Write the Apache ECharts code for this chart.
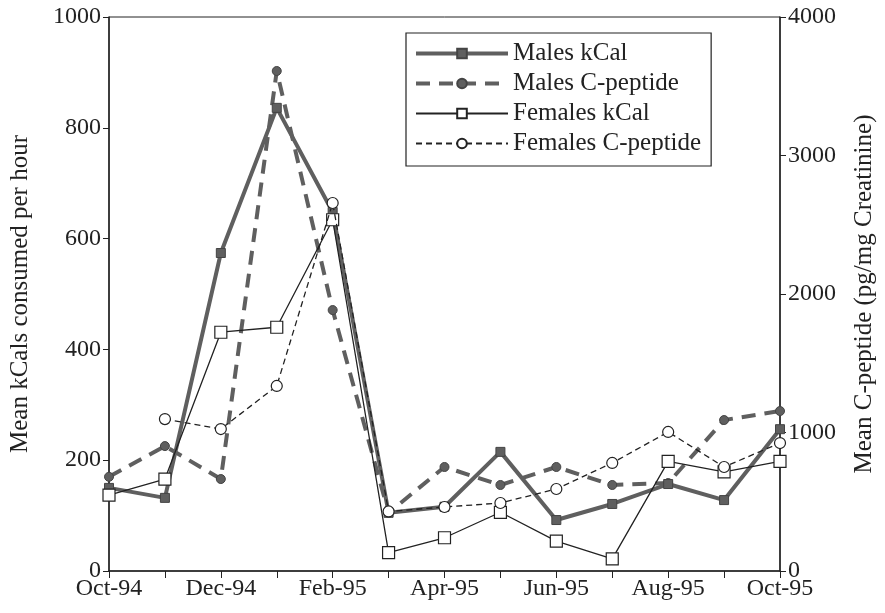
<!DOCTYPE html>
<html lang="en">
<head>
    <meta charset="UTF-8">
    <title>kCal and C-peptide</title>
    <script src="https://cdn.jsdelivr.net/npm/echarts@6/dist/echarts.min.js"></script>
</head>
<body style="margin:0">
<div id="main" style="width: 885px;height:613px;"></div>
<script>
    // months on the x axis
    var months = ['Oct-94', 'Nov-94', 'Dec-94', 'Jan-95', 'Feb-95', 'Mar-95', 'Apr-95',
                  'May-95', 'Jun-95', 'Jul-95', 'Aug-95', 'Sep-95', 'Oct-95'];
    // left axis: kCal per hour
    var malesKcal   = [150, 132, 574, 836, 648, 105, 116, 215, 92, 121, 157, 128, 256];
    var femalesKcal = [137, 166, 431, 440, 634, 33, 60, 106, 54, 22, 198, 179, 198];
    // right axis: C-peptide
    var malesCpep   = [680, 902, 664, 3610, 1884, 420, 751, 621, 751, 621, 635, 1090, 1155];
    var femalesCpep = [null, 1097, 1025, 1336, 2657, 430, 462, 491, 592, 780, 1004, 751, 924];

    var leftTicks = [0, 1000, 200];
    var rightTicks = [0, 4000, 1000];

    var font = 'Liberation Serif';
    var ink = '#222';
    var grey = '#5f5f5f';

    var myChart = echarts.init(document.getElementById('main'));

    function plain(v) { return String(v); }   // no thousands separator

    var option = {
        backgroundColor: '#fff',
        textStyle: { fontFamily: font, color: ink },
        grid: {
            left: 106, right: 102, top: 17, bottom: 42,
            show: true, borderColor: ink, borderWidth: 1
        },
        legend: {
            orient: 'vertical',
            left: 406,
            top: 33,
            padding: [8, 10, 10, 8],
            itemGap: 5,
            itemWidth: 92,
            itemHeight: 12,
            borderColor: ink,
            borderWidth: 1.2,
            textStyle: { fontFamily: font, fontSize: 25, color: ink, lineHeight: 24 },
            data: [
                { name: 'Males kCal', lineStyle: { width: 4, color: grey } },
                { name: 'Males C-peptide', lineStyle: { width: 4, color: grey } },
                { name: 'Females kCal' },
                { name: 'Females C-peptide' }
            ]
        },
        xAxis: {
            type: 'category',
            data: months,
            boundaryGap: false,
            axisLine: { lineStyle: { color: ink, width: 1.5 } },
            axisTick: { interval: 0, length: 7, lineStyle: { color: ink } },
            axisLabel: { interval: 1, fontSize: 24, color: ink, fontFamily: font, margin: 6 },
            splitLine: { show: false }
        },
        yAxis: [{
            type: 'value',
            min: leftTicks[0], max: leftTicks[1], interval: leftTicks[2],
            name: 'Mean kCals consumed per hour',
            nameLocation: 'middle',
            nameRotate: 90,
            nameGap: 76,
            nameTextStyle: { fontSize: 25, color: ink, fontFamily: font },
            axisLine: { show: true, lineStyle: { color: ink, width: 1.5 } },
            axisTick: { show: true, length: 6, lineStyle: { color: ink } },
            axisLabel: { fontSize: 24, color: ink, fontFamily: font, margin: 8, formatter: plain },
            splitLine: { show: false }
        }, {
            type: 'value',
            position: 'right',
            min: rightTicks[0], max: rightTicks[1], interval: rightTicks[2],
            name: 'Mean C-peptide (pg/mg Creatinine)',
            nameLocation: 'middle',
            nameRotate: 90,
            nameGap: 72,
            nameTextStyle: { fontSize: 25, color: ink, fontFamily: font },
            axisLine: { show: true, lineStyle: { color: ink, width: 1.5 } },
            axisTick: { show: true, length: 6, lineStyle: { color: ink } },
            axisLabel: { fontSize: 24, color: ink, fontFamily: font, margin: 8, formatter: plain },
            splitLine: { show: false }
        }],
        series: [{
            name: 'Males kCal',
            type: 'line',
            yAxisIndex: 0,
            data: malesKcal,
            symbol: 'rect',
            symbolSize: 9,
            itemStyle: { color: grey, borderColor: '#444', borderWidth: 1 },
            lineStyle: { color: grey, width: 4 },
            z: 3
        }, {
            name: 'Males C-peptide',
            type: 'line',
            yAxisIndex: 1,
            data: malesCpep,
            symbol: 'circle',
            symbolSize: 9,
            itemStyle: { color: grey, borderColor: '#444', borderWidth: 1 },
            lineStyle: { color: grey, width: 4, type: [14, 9] },
            z: 2
        }, {
            name: 'Females kCal',
            type: 'line',
            yAxisIndex: 0,
            data: femalesKcal,
            symbol: 'rect',
            symbolSize: 12,
            showAllSymbol: true,
            itemStyle: { color: '#fff', borderColor: ink, borderWidth: 1.2 },
            lineStyle: { color: ink, width: 1.3 },
            z: 4
        }, {
            name: 'Females C-peptide',
            type: 'line',
            yAxisIndex: 1,
            data: femalesCpep,
            symbol: 'circle',
            symbolSize: 11,
            itemStyle: { color: '#fff', borderColor: ink, borderWidth: 1.2 },
            lineStyle: { color: ink, width: 1.3, type: [6, 4] },
            z: 5
        }]
    };

    myChart.setOption(option);
</script>
</body>
</html>
